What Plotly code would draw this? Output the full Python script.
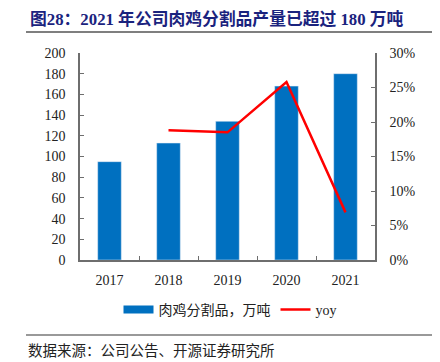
import plotly.graph_objects as go

years = ["2017", "2018", "2019", "2020", "2021"]
output = [95, 113, 134, 168, 180]
yoy_years = ["2018", "2019", "2020", "2021"]
yoy = [0.188, 0.185, 0.258, 0.069]

bar_name = "肉鸡分割品，万吨"
line_name = "yoy"
title = "图28：2021 年公司肉鸡分割品产量已超过 180 万吨"
source = "数据来源：公司公告、开源证券研究所"

BLUE = "#0070C0"
RED = "#FF0000"
AX = "#6e6e6e"
SERIF = "Liberation Serif, Times New Roman, serif"
CJK = "Noto Sans CJK SC"

# page offset of the plot div (default body margin)
OFF = 8
W, H = 440 - OFF, 362 - OFF
L, R, T, B = 80 - OFF, 440 - 375, 53 - OFF, 362 - 260
pw, ph = W - L - R, H - T - B


def px(x):
    return (x - OFF - L) / pw


def py(y):
    return (H - B - (y - OFF)) / ph


fig = go.Figure()
fig.add_trace(go.Bar(x=years, y=output, marker_color=BLUE, name=bar_name,
                     showlegend=False, yaxis="y"))
fig.add_trace(go.Scatter(x=[None], y=[None], mode="lines", name=bar_name,
                         line=dict(color=BLUE, width=8), hoverinfo="skip"))
fig.add_trace(go.Scatter(x=yoy_years, y=yoy, mode="lines", name=line_name,
                         line=dict(color=RED, width=2.5), yaxis="y2"))

fig.update_layout(
    width=W, height=H,
    margin=dict(l=L, r=R, t=T, b=B, pad=0),
    paper_bgcolor="white", plot_bgcolor="white",
    bargap=0.6,
    font=dict(family=SERIF, size=14, color="#222"),
    xaxis=dict(type="category", showline=True, linecolor=AX, linewidth=1.5,
               ticks="inside", tickson="boundaries", ticklen=4, tickcolor=AX,
               showgrid=False, tickfont=dict(family=SERIF, size=14, color="#222"),
               ticklabelstandoff=6),
    yaxis=dict(range=[0, 200], dtick=20, showline=True, linecolor=AX, linewidth=1.5,
               ticks="inside", ticklen=4, tickcolor=AX, showgrid=False, zeroline=False,
               tickfont=dict(family=SERIF, size=14, color="#222"), ticklabelstandoff=10),
    yaxis2=dict(range=[0, 0.30], dtick=0.05, tickformat=".0%", overlaying="y", side="right",
                showline=True, linecolor=AX, linewidth=1.5, ticks="inside", ticklen=4,
                tickcolor=AX, showgrid=False, zeroline=False,
                tickfont=dict(family=SERIF, size=14, color="#222"), ticklabelstandoff=10),
    legend=dict(orientation="h", x=px(230), xanchor="center", y=py(310), yanchor="middle",
                font=dict(family="Liberation Serif, " + CJK, size=14, color="#222"),
                bgcolor="rgba(0,0,0,0)"),
    showlegend=True,
)

# title and footer rules
for yy, col, wd in [(32, "#555", 1.5), (335, "#999", 2)]:
    fig.add_shape(type="line", xref="paper", yref="paper", x0=px(0), x1=px(8),
                  y0=py(yy), y1=py(yy), line=dict(color=col, width=wd))
    fig.add_shape(type="line", xref="paper", yref="paper", x0=px(26), x1=px(438),
                  y0=py(yy), y1=py(yy), line=dict(color=col, width=wd))

fig.add_annotation(text="<b>" + title + "</b>", xref="paper", yref="paper",
                   x=px(28), y=py(19), xanchor="left", yanchor="middle", showarrow=False,
                   font=dict(family="Liberation Serif, " + CJK, size=16.8, color="#1a237e"))
fig.add_annotation(text=source, xref="paper", yref="paper",
                   x=px(26), y=py(349), xanchor="left", yanchor="middle", showarrow=False,
                   font=dict(family=CJK, size=14.5, color="#222"))

fig.write_html("out.html")
